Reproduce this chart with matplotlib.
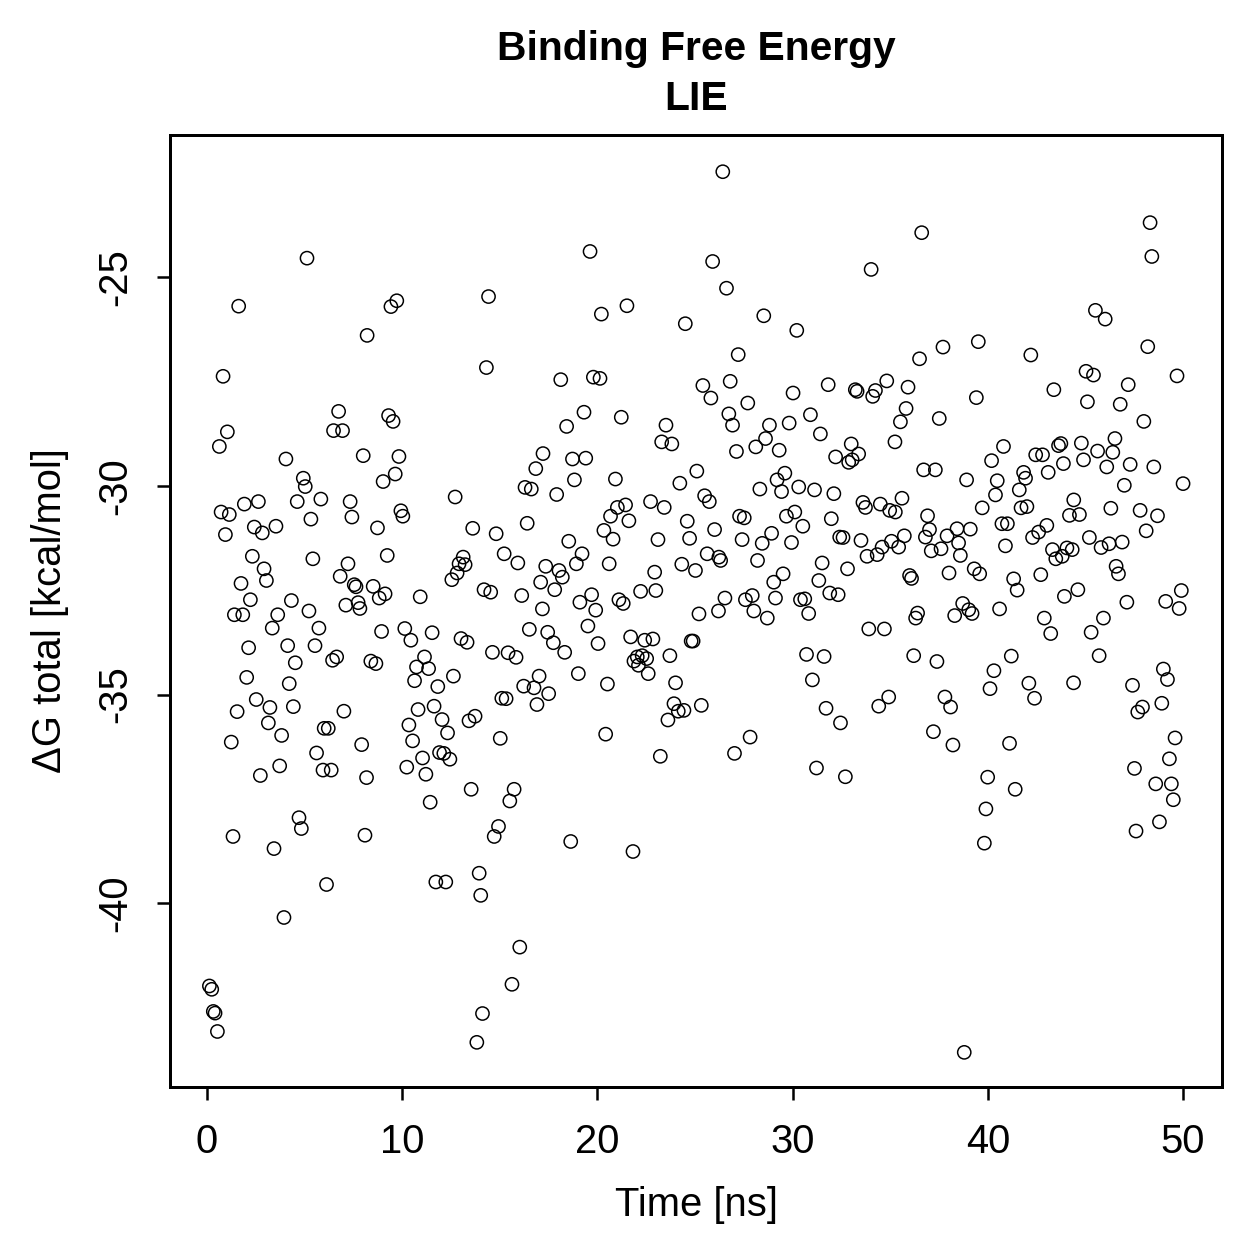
import matplotlib
matplotlib.use("Agg")
import matplotlib.pyplot as plt

plt.rcParams['font.family'] = ['Liberation Sans', 'DejaVu Sans']
plt.rcParams['axes.unicode_minus'] = False

# values
time_ns = [
    0.12, 0.24, 0.32, 0.41, 0.53, 0.63, 0.72, 0.82, 0.94, 1.04, 1.14, 1.24, 1.33, 1.40, 1.54, 1.62,
    1.74, 1.83, 1.91, 2.03, 2.13, 2.22, 2.32, 2.42, 2.52, 2.63, 2.73, 2.83, 2.92, 3.04, 3.14, 3.22,
    3.34, 3.43, 3.53, 3.62, 3.72, 3.82, 3.94, 4.04, 4.13, 4.21, 4.32, 4.42, 4.52, 4.62, 4.71, 4.83,
    4.93, 5.03, 5.12, 5.22, 5.32, 5.42, 5.53, 5.61, 5.73, 5.83, 5.94, 6.00, 6.12, 6.21, 6.36, 6.43,
    6.48, 6.64, 6.74, 6.82, 6.94, 7.01, 7.11, 7.22, 7.33, 7.42, 7.54, 7.63, 7.74, 7.83, 7.92, 8.00,
    8.09, 8.17, 8.20, 8.39, 8.51, 8.65, 8.73, 8.82, 8.94, 9.02, 9.12, 9.23, 9.30, 9.42, 9.53, 9.64,
    9.72, 9.83, 9.93, 10.03, 10.13, 10.23, 10.34, 10.44, 10.53, 10.63, 10.73, 10.81, 10.92, 11.04,
    11.14, 11.21, 11.35, 11.43, 11.53, 11.63, 11.72, 11.82, 11.91, 12.04, 12.13, 12.23, 12.32, 12.44,
    12.54, 12.62, 12.71, 12.81, 12.91, 13.01, 13.12, 13.22, 13.32, 13.42, 13.53, 13.61, 13.73, 13.82,
    13.94, 14.02, 14.11, 14.19, 14.31, 14.42, 14.53, 14.62, 14.71, 14.81, 14.93, 15.02, 15.10, 15.22,
    15.32, 15.42, 15.51, 15.62, 15.73, 15.83, 15.92, 16.02, 16.12, 16.22, 16.29, 16.40, 16.51, 16.61,
    16.75, 16.84, 16.90, 17.01, 17.09, 17.18, 17.21, 17.35, 17.45, 17.50, 17.74, 17.81, 17.91, 18.03,
    18.12, 18.20, 18.32, 18.42, 18.53, 18.63, 18.72, 18.82, 18.92, 19.02, 19.10, 19.21, 19.31, 19.40,
    19.51, 19.62, 19.70, 19.79, 19.91, 20.03, 20.13, 20.20, 20.33, 20.42, 20.51, 20.60, 20.67, 20.80,
    20.92, 21.02, 21.10, 21.22, 21.32, 21.44, 21.51, 21.61, 21.70, 21.82, 21.87, 22.04, 22.10, 22.21,
    22.29, 22.42, 22.52, 22.60, 22.72, 22.84, 22.93, 22.99, 23.10, 23.22, 23.29, 23.42, 23.51, 23.61,
    23.71, 23.81, 23.92, 24.00, 24.14, 24.22, 24.32, 24.43, 24.50, 24.60, 24.72, 24.80, 24.90, 25.02,
    25.09, 25.20, 25.32, 25.40, 25.49, 25.62, 25.73, 25.81, 25.90, 26.00, 26.20, 26.22, 26.31, 26.42,
    26.53, 26.61, 26.73, 26.80, 26.92, 27.02, 27.12, 27.21, 27.28, 27.41, 27.52, 27.58, 27.70, 27.82,
    27.93, 28.01, 28.11, 28.20, 28.32, 28.44, 28.52, 28.61, 28.70, 28.81, 28.92, 29.03, 29.12, 29.20,
    29.31, 29.43, 29.51, 29.60, 29.68, 29.82, 29.94, 30.02, 30.11, 30.21, 30.31, 30.40, 30.52, 30.62,
    30.71, 30.82, 30.91, 31.01, 31.12, 31.22, 31.34, 31.42, 31.51, 31.61, 31.71, 31.82, 31.90, 31.98,
    32.11, 32.20, 32.33, 32.41, 32.45, 32.58, 32.70, 32.81, 32.87, 33.00, 33.05, 33.21, 33.30, 33.38,
    33.50, 33.60, 33.73, 33.81, 33.90, 34.02, 34.10, 34.24, 34.33, 34.41, 34.49, 34.58, 34.70, 34.82,
    34.92, 34.97, 35.06, 35.24, 35.26, 35.43, 35.52, 35.60, 35.72, 35.81, 35.91, 35.99, 36.09, 36.20,
    36.30, 36.40, 36.50, 36.61, 36.71, 36.80, 36.91, 37.01, 37.10, 37.21, 37.31, 37.39, 37.51, 37.60,
    37.70, 37.80, 37.91, 38.01, 38.09, 38.21, 38.30, 38.42, 38.50, 38.59, 38.71, 38.79, 38.91, 39.02,
    39.10, 39.19, 39.30, 39.41, 39.51, 39.58, 39.71, 39.82, 39.90, 39.99, 40.11, 40.19, 40.31, 40.39,
    40.48, 40.60, 40.72, 40.80, 40.90, 41.00, 41.11, 41.20, 41.32, 41.40, 41.50, 41.61, 41.70, 41.83,
    41.93, 42.00, 42.10, 42.20, 42.29, 42.39, 42.45, 42.60, 42.71, 42.80, 42.89, 43.02, 43.09, 43.22,
    43.31, 43.38, 43.48, 43.62, 43.74, 43.81, 43.87, 43.92, 44.05, 44.18, 44.40, 44.32, 44.39, 44.61,
    44.69, 44.79, 44.90, 45.03, 45.10, 45.20, 45.29, 45.41, 45.51, 45.62, 45.70, 45.80, 45.92, 46.01,
    46.09, 46.21, 46.30, 46.40, 46.51, 46.57, 46.69, 46.78, 46.88, 46.99, 47.12, 47.19, 47.29, 47.41,
    47.51, 47.59, 47.68, 47.80, 47.92, 47.99, 48.11, 48.19, 48.31, 48.40, 48.50, 48.60, 48.69, 48.79,
    48.91, 48.99, 49.11, 49.20, 49.30, 49.40, 49.50, 49.59, 49.69, 49.80, 49.91, 50.00,
]

dg_total = [
    -41.98, -42.06, -42.59, -42.63, -43.07, -29.06, -30.63, -27.38, -31.17, -28.71, -30.69, -36.14, -38.40, -33.09, -35.41, -25.70,
    -32.34, -33.09, -30.44, -34.59, -33.88, -32.73, -31.69, -30.99, -35.12, -30.38, -36.94, -31.13, -31.99, -32.27, -35.68, -35.31,
    -33.41, -38.69, -30.97, -33.09, -36.71, -35.98, -40.34, -29.36, -33.83, -34.74, -32.75, -35.29, -34.24, -30.38, -37.95, -38.21,
    -29.82, -30.02, -24.55, -33.00, -30.80, -31.75, -33.83, -36.40, -33.41, -30.32, -36.81, -35.81, -39.55, -35.81, -36.81, -34.18,
    -28.68, -34.10, -28.22, -32.17, -28.68, -35.40, -32.86, -31.87, -30.38, -30.75, -32.37, -32.42, -32.80, -32.94, -36.20, -29.28,
    -38.37, -36.99, -26.40, -34.20, -32.41, -34.26, -31.01, -32.69, -33.49, -29.90, -32.59, -31.67, -28.32, -25.71, -28.46, -29.72,
    -25.57, -29.30, -30.60, -30.73, -33.42, -36.74, -35.73, -33.70, -36.11, -34.67, -34.34, -35.36, -32.66, -36.52,
    -34.10, -36.91, -34.38, -37.58, -33.52, -35.28, -39.49, -34.81, -36.39, -35.60, -36.41, -39.49, -35.92, -36.55,
    -32.25, -34.56, -30.27, -32.09, -31.87, -33.66, -31.71, -31.89, -33.75, -35.63, -37.27, -31.02, -35.52, -43.33,
    -39.28, -39.81, -42.64, -32.49, -27.17, -25.47, -32.55, -33.99, -38.40, -31.15, -38.16, -36.05, -35.09, -31.63,
    -35.10, -34.00, -37.55, -41.94, -37.27, -34.11, -31.85, -41.05, -32.63, -34.80, -30.04, -30.90, -33.44, -30.08,
    -34.84, -29.59, -35.24, -34.56, -32.31, -32.95, -29.23, -31.93, -33.51, -34.98, -33.76, -32.49, -30.21, -32.03,
    -27.46, -32.19, -33.99, -28.58, -31.33, -38.52, -29.36, -29.86, -31.87, -34.50, -32.79, -31.63, -28.24, -29.34,
    -33.36, -24.39, -32.61, -27.40, -32.98, -33.78, -27.43, -25.89, -31.07, -35.95, -34.75, -31.87, -30.73, -31.28,
    -29.84, -30.52, -32.73, -28.36, -32.82, -30.46, -25.69, -30.84, -33.62, -38.76, -34.20, -34.10, -34.30, -32.53,
    -34.07, -33.70, -34.14, -34.50, -30.38, -33.67, -32.07, -32.51, -31.29, -36.48, -28.95, -30.52, -28.55, -35.61,
    -34.07, -29.00, -35.22, -34.72, -35.40, -29.94, -31.88, -35.38, -26.12, -30.85, -31.26, -33.72, -33.72, -32.03,
    -29.65, -33.07, -35.26, -27.60, -30.24, -31.63, -30.38, -27.90, -24.63, -31.05, -33.00, -31.71, -31.79, -22.48,
    -32.69, -25.27, -28.28, -27.50, -28.55, -36.41, -29.18, -26.86, -30.73, -31.29, -30.77, -32.73, -28.02, -36.02,
    -32.63, -33.00, -29.07, -31.79, -30.08, -31.38, -25.93, -28.87, -33.17, -28.55, -31.14, -32.31, -32.69, -29.86,
    -29.15, -30.14, -32.11, -29.70, -30.73, -28.50, -31.36, -27.78, -30.63, -26.28, -30.03, -32.73, -30.97, -32.71,
    -34.04, -33.06, -28.30, -34.65, -30.10, -36.76, -32.27, -28.76, -31.85, -34.09, -35.33, -27.58, -32.57, -30.79,
    -30.19, -29.31, -32.61, -31.23, -35.68, -31.24, -36.97, -31.99, -29.44, -29.00, -29.38, -27.70, -27.74, -29.24,
    -31.31, -30.40, -30.52, -31.69, -33.43, -24.82, -27.86, -27.72, -31.65, -35.28, -30.44, -31.47, -33.43, -27.49,
    -35.06, -30.59, -31.33, -28.95, -30.63, -31.47, -28.47, -30.30, -31.20, -28.15, -27.64, -32.15, -32.22, -34.07,
    -33.17, -33.05, -26.96, -23.94, -29.62, -31.23, -30.72, -31.05, -31.56, -35.89, -29.62, -34.21, -28.39, -31.51,
    -26.68, -35.06, -31.20, -32.09, -35.30, -36.21, -33.11, -31.03, -31.37, -31.67, -32.82, -43.57, -29.86, -32.97,
    -31.04, -33.06, -31.99, -27.89, -26.55, -32.11, -30.53, -38.56, -37.74, -36.98, -34.86, -29.40, -34.43, -30.22,
    -29.88, -32.95, -30.91, -29.06, -31.44, -30.91, -36.17, -34.08, -32.23, -37.27, -32.50, -30.10, -30.53, -29.68,
    -29.82, -30.50, -34.73, -26.87, -31.24, -35.09, -29.26, -31.11, -32.13, -29.26, -33.17, -30.95, -29.68, -33.54,
    -31.53, -27.70, -31.75, -29.04, -28.99, -31.69, -29.47, -32.65, -31.49, -30.71, -30.34, -31.53, -34.72, -32.49,
    -30.69, -28.98, -29.38, -27.26, -27.99, -31.24, -33.51, -27.35, -25.80, -29.17, -34.07, -31.48, -33.17, -26.01,
    -29.55, -31.39, -30.54, -29.20, -28.87, -31.93, -32.11, -28.05, -31.35, -29.99, -32.79, -27.58, -29.49, -34.78,
    -36.77, -38.27, -35.42, -30.59, -35.30, -28.46, -31.08, -26.67, -23.70, -24.51, -29.55, -37.14, -30.72, -38.05,
    -35.21, -34.39, -32.77, -34.64, -36.54, -37.14, -37.52, -36.04, -27.37, -32.94, -32.51, -29.95,
]

x_ticks = [0, 10, 20, 30, 40, 50]
y_ticks = [-40, -35, -30, -25]

fig = plt.figure(figsize=(1259 / 180, 1259 / 180), dpi=180)
ax = fig.add_axes([0.135, 0.1366, 0.8357, 0.7562])

ax.scatter(time_ns, dg_total, s=28, facecolors='none', edgecolors='black', linewidths=0.6)

ax.set_xlim(-1.9, 52.0)
ax.set_ylim(-44.4, -21.6)
ax.set_xticks(x_ticks)
ax.set_yticks(y_ticks)
ax.tick_params(direction='out', length=5.2, width=1.0, labelsize=16, colors='black')
ax.tick_params(axis='x', pad=9)
ax.tick_params(axis='y', pad=9, labelrotation=90)
for lab in ax.get_yticklabels():
    lab.set_va('center')
for sp in ax.spines.values():
    sp.set_linewidth(1.2)

ax.set_xlabel("Time [ns]", fontsize=16, labelpad=10)
ax.set_ylabel("\u0394G total [kcal/mol]", fontsize=16, labelpad=11)
ax.set_title("Binding Free Energy\nLIE", fontsize=16.3, fontweight='bold', pad=10, linespacing=1.4)

fig.savefig("out.png", dpi=180)
